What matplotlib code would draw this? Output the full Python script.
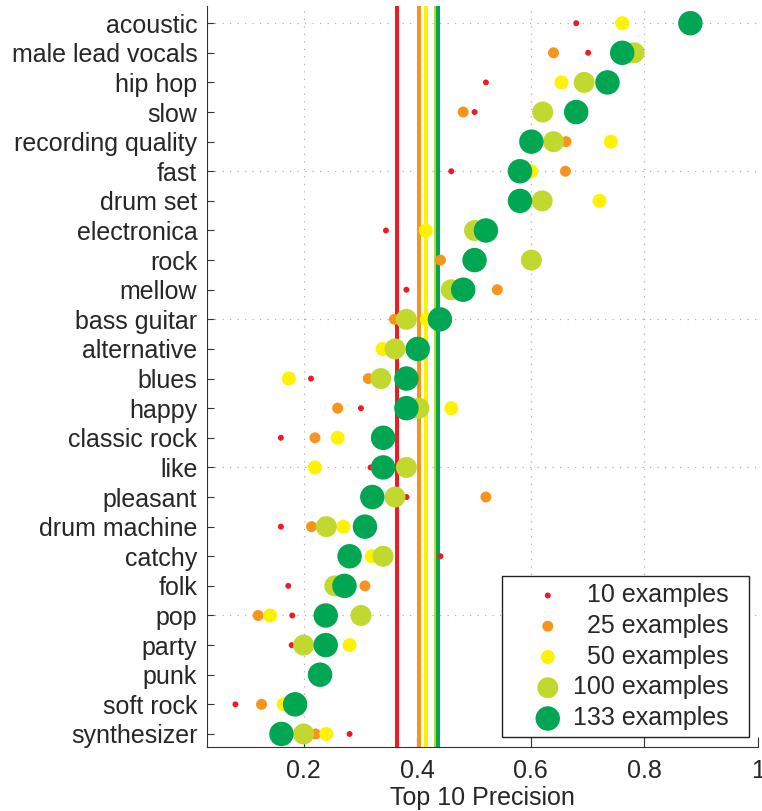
import matplotlib.pyplot as plt

plt.rcParams['font.family'] = ['Liberation Sans', 'DejaVu Sans']

tags = ['acoustic', 'male lead vocals', 'hip hop', 'slow', 'recording quality',
        'fast', 'drum set', 'electronica', 'rock', 'mellow', 'bass guitar',
        'alternative', 'blues', 'happy', 'classic rock', 'like', 'pleasant',
        'drum machine', 'catchy', 'folk', 'pop', 'party', 'punk', 'soft rock',
        'synthesizer']

# top 10 precision per tag for each training set size
prec10 = [0.680, 0.701, 0.521, 0.501, 0.600, 0.460, 0.580, 0.345, 0.500, 0.381,
          0.380, 0.360, 0.213, 0.301, 0.160, 0.318, 0.381, 0.160, 0.441, 0.173,
          0.180, 0.179, 0.230, 0.080, 0.281]
prec25 = [0.760, 0.640, 0.655, 0.481, 0.662, 0.661, 0.620, 0.415, 0.441, 0.541,
          0.360, 0.340, 0.314, 0.260, 0.220, 0.340, 0.521, 0.214, 0.280, 0.308,
          0.120, 0.200, 0.230, 0.126, 0.221]
prec50 = [0.761, 0.760, 0.654, 0.620, 0.741, 0.601, 0.721, 0.415, 0.500, 0.470,
          0.417, 0.339, 0.174, 0.460, 0.260, 0.220, 0.360, 0.270, 0.320, 0.255,
          0.141, 0.281, 0.230, 0.165, 0.240]
prec100 = [0.880, 0.782, 0.694, 0.621, 0.640, 0.580, 0.620, 0.501, 0.601, 0.460,
           0.381, 0.361, 0.336, 0.403, 0.340, 0.381, 0.361, 0.240, 0.340, 0.255,
           0.301, 0.200, 0.230, 0.185, 0.200]
prec133 = [0.881, 0.761, 0.735, 0.680, 0.601, 0.581, 0.581, 0.521, 0.501, 0.481,
           0.440, 0.401, 0.381, 0.381, 0.340, 0.340, 0.321, 0.308, 0.281, 0.272,
           0.239, 0.239, 0.229, 0.185, 0.161]

# mean precision for each training set size
means = [0.364, 0.403, 0.415, 0.433, 0.436]
labels = ['10 examples', '25 examples', '50 examples', '100 examples', '133 examples']

colors = ['#ed1c24', '#f7941d', '#fff200', '#c1d82f', '#00a651']
sizes = [4.3, 7.9, 10.1, 15.1, 17.6]
txt = '#262626'

fig = plt.figure(figsize=(7.62, 8.11), dpi=100)
ax = fig.add_axes([0.2717, 0.0793, 0.723, 0.9133])

n = len(tags)
ypos = [n - 1 - i for i in range(n)]

for i in range(0, n, 5):
    ax.axhline(ypos[i], color='#b0b0b0', lw=0.9, ls=(0, (1, 5)), zorder=0)
ax.grid(axis='x', color='#b0b0b0', lw=0.9, ls=(0, (1, 5)))
ax.set_axisbelow(True)

for m, c in zip(means, colors):
    ax.axvline(m, color=c, lw=2.9, zorder=1)

series = [prec10, prec25, prec50, prec100, prec133]
for vals, c, s, lab in zip(series, colors, sizes, labels):
    ax.scatter(vals, ypos, s=s ** 2, color=c, edgecolors='none', label=lab, zorder=3)

ax.set_xlim(0.03, 1.0)
ax.set_ylim(-0.43, 24.58)
ax.set_xticks([0.2, 0.4, 0.6, 0.8, 1.0])
ax.set_xticklabels(['0.2', '0.4', '0.6', '0.8', '1'])
ax.set_yticks(ypos)
ax.set_yticklabels(tags)
ax.tick_params(axis='both', direction='in', labelsize=18, colors='#333333', labelcolor=txt)
ax.tick_params(axis='x', length=7, pad=9)
ax.tick_params(axis='y', length=5, pad=7)
ax.set_xlabel('Top 10 Precision', fontsize=18, color=txt, labelpad=2)

ax.spines['top'].set_visible(False)
ax.spines['right'].set_visible(False)
ax.spines['left'].set_color('#333333')
ax.spines['bottom'].set_color('#333333')

leg = ax.legend(loc='lower right', bbox_to_anchor=(0.984, 0.013), borderaxespad=0,
                fontsize=18, scatterpoints=1, fancybox=False, framealpha=1,
                edgecolor='#222222', labelspacing=0.27, borderpad=0.28,
                handlelength=3.1, handletextpad=0.0)
leg.get_frame().set_linewidth(1.0)

# right-align the legend texts and leave some room before the frame
renderer = fig.canvas.get_renderer()
widths = [t.get_window_extent(renderer).width for t in leg.get_texts()]
wmax = max(widths)
for t, w in zip(leg.get_texts(), widths):
    t.set_color(txt)
    t.set_position((wmax - w - 14, 0))

fig.savefig('out.png', dpi=100)
